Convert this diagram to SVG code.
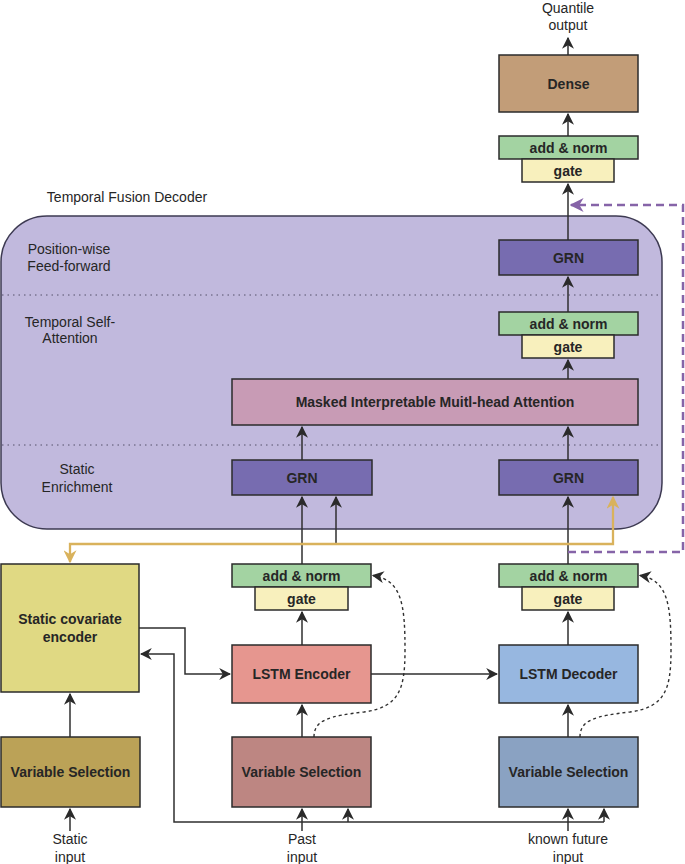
<svg xmlns="http://www.w3.org/2000/svg" width="685" height="864" viewBox="0 0 685 864">
<style>
.box{stroke:#2b2b2b;stroke-width:1.5}
.lbl{font-family:"Liberation Sans",Arial,sans-serif;font-weight:bold;font-size:14px;fill:#262626;text-anchor:middle}
.txt{font-family:"Liberation Sans",Arial,sans-serif;font-size:14px;fill:#262626;text-anchor:middle}
.con{fill:none;stroke:#2f2f2f;stroke-width:1.5}
.dash{fill:none;stroke:#2f2f2f;stroke-width:1.4;stroke-dasharray:3 3}
.gold{fill:none;stroke:#d9b25c;stroke-width:2.3}
.purp{fill:none;stroke:#8664a8;stroke-width:2.5;stroke-dasharray:8 5}
.sep{stroke:#55506a;stroke-width:1;stroke-dasharray:1.5 4}
</style>
<defs>
<marker id="arr" markerUnits="userSpaceOnUse" markerWidth="12" markerHeight="12" viewBox="0 0 10 10" refX="9" refY="5" orient="auto">
<path d="M0,0 L10,5 L0,10 L3,5 z" fill="#2a2a2a"/>
</marker>
<marker id="arrG" markerUnits="userSpaceOnUse" markerWidth="13" markerHeight="13" viewBox="0 0 10 10" refX="9" refY="5" orient="auto-start-reverse">
<path d="M0,0 L10,5 L0,10 L3,5 z" fill="#d9b25c"/>
</marker>
<marker id="arrP" markerUnits="userSpaceOnUse" markerWidth="14" markerHeight="14" viewBox="0 0 10 10" refX="9" refY="5" orient="auto">
<path d="M0,0 L10,5 L0,10 L3,5 z" fill="#8664a8"/>
</marker>
</defs>

<g id="decoder">
<rect x="1" y="216" width="661" height="313" rx="46" ry="46" fill="#c1b9dd" stroke="#3d3a52" stroke-width="1.5"/>
<line class="sep" x1="2" y1="295" x2="661" y2="295"/>
<line class="sep" x1="2" y1="445" x2="661" y2="445"/>
<text class="txt" x="127" y="202">Temporal Fusion Decoder</text>
<text class="txt" x="69" y="254">Position-wise</text>
<text class="txt" x="69" y="271">Feed-forward</text>
<text class="txt" x="70" y="327">Temporal Self-</text>
<text class="txt" x="70" y="343">Attention</text>
<text class="txt" x="77" y="474">Static</text>
<text class="txt" x="77" y="492">Enrichment</text>
</g>

<g id="connectors">
<path class="con" marker-end="url(#arr)" d="M568,55 V38"/>
<path class="con" marker-end="url(#arr)" d="M568,136 V114"/>
<path class="con" marker-end="url(#arr)" d="M568,240 V184"/>
<path class="con" marker-end="url(#arr)" d="M568,312 V277"/>
<path class="con" marker-end="url(#arr)" d="M568,379 V360"/>
<path class="con" marker-end="url(#arr)" d="M568,460 V427"/>
<path class="con" marker-end="url(#arr)" d="M302,460 V427"/>
<path class="con" marker-end="url(#arr)" d="M568,564 V497"/>
<path class="con" marker-end="url(#arr)" d="M302,564 V497"/>
<path class="con" marker-end="url(#arr)" d="M336,545 V497"/>
<path class="con" marker-end="url(#arr)" d="M568,645 V612"/>
<path class="con" marker-end="url(#arr)" d="M302,645 V612"/>
<path class="con" marker-end="url(#arr)" d="M568,737 V705"/>
<path class="con" marker-end="url(#arr)" d="M302,737 V705"/>
<path class="con" marker-end="url(#arr)" d="M371,674 H497"/>
<path class="con" marker-end="url(#arr)" d="M139,628 H185 V674 H230"/>
<path class="con" marker-end="url(#arr)" d="M604,822 H174 V654 H141"/>
<path class="con" marker-end="url(#arr)" d="M348,822 V809"/>
<path class="con" marker-end="url(#arr)" d="M604,822 V809"/>
<path class="con" marker-end="url(#arr)" d="M70,737 V694"/>
<path class="con" marker-end="url(#arr)" d="M70,831 V809"/>
<path class="con" marker-end="url(#arr)" d="M302,831 V809"/>
<path class="con" marker-end="url(#arr)" d="M568,831 V809"/>
<path class="dash" marker-end="url(#arr)" d="M580,737 C580,720 595,716 630,712 C665,707 671,690 671,650 C671,605 668,580 640,575.5"/>
<path class="dash" marker-end="url(#arr)" d="M314,737 C314,720 329,716 364,712 C399,707 405,690 405,650 C405,605 402,580 373,575.5"/>
<path class="gold" marker-start="url(#arrG)" marker-end="url(#arrG)" d="M70,562 V544 H613 V497"/>
<path class="purp" marker-end="url(#arrP)" d="M568,552 H683 V205 H571"/>
</g>

<g id="quantile-output"><text class="txt" x="568" y="13">Quantile</text><text class="txt" x="568" y="30">output</text></g>
<g id="dense"><rect class="box" x="499" y="55" width="139" height="57" fill="#c29d78"/><text class="lbl" x="568.5" y="88.5">Dense</text></g>
<g id="addnorm-out"><rect class="box" x="499" y="136" width="139" height="23" fill="#a3d3a2"/><text class="lbl" x="568.5" y="152.5">add &amp; norm</text></g>
<g id="gate-out"><rect class="box" x="522" y="159" width="92" height="23" fill="#f8f0bd"/><text class="lbl" x="568" y="175.5">gate</text></g>
<g id="grn-ff"><rect class="box" x="499" y="240" width="139" height="35" fill="#776cb0"/><text class="lbl" x="568.5" y="262.5">GRN</text></g>
<g id="addnorm-att"><rect class="box" x="499" y="312" width="139" height="23" fill="#a3d3a2"/><text class="lbl" x="568.5" y="328.5">add &amp; norm</text></g>
<g id="gate-att"><rect class="box" x="522" y="335" width="92" height="23" fill="#f8f0bd"/><text class="lbl" x="568" y="351.5">gate</text></g>
<g id="attention"><rect class="box" x="232" y="379" width="406" height="46" fill="#c89bb5"/><text class="lbl" x="435" y="407">Masked Interpretable Muitl-head Attention</text></g>
<g id="grn-enrich-left"><rect class="box" x="232" y="460" width="140" height="35" fill="#776cb0"/><text class="lbl" x="302" y="482.5">GRN</text></g>
<g id="grn-enrich-right"><rect class="box" x="499" y="460" width="139" height="35" fill="#776cb0"/><text class="lbl" x="568.5" y="482.5">GRN</text></g>
<g id="addnorm-enc"><rect class="box" x="232" y="564" width="139" height="23" fill="#a3d3a2"/><text class="lbl" x="301.5" y="580.5">add &amp; norm</text></g>
<g id="gate-enc"><rect class="box" x="255" y="587" width="93" height="23" fill="#f8f0bd"/><text class="lbl" x="301.5" y="603.5">gate</text></g>
<g id="addnorm-dec"><rect class="box" x="499" y="564" width="139" height="23" fill="#a3d3a2"/><text class="lbl" x="568.5" y="580.5">add &amp; norm</text></g>
<g id="gate-dec"><rect class="box" x="522" y="587" width="92" height="23" fill="#f8f0bd"/><text class="lbl" x="568" y="603.5">gate</text></g>
<g id="static-encoder"><rect class="box" x="1" y="564" width="138" height="128" fill="#e0d983"/><text class="lbl" x="70" y="624">Static covariate</text><text class="lbl" x="70" y="642">encoder</text></g>
<g id="lstm-encoder"><rect class="box" x="232" y="645" width="139" height="58" fill="#e6968f"/><text class="lbl" x="301.5" y="679">LSTM Encoder</text></g>
<g id="lstm-decoder"><rect class="box" x="499" y="645" width="139" height="58" fill="#97b7e0"/><text class="lbl" x="568.5" y="679">LSTM Decoder</text></g>
<g id="vs-static"><rect class="box" x="1" y="737" width="139" height="70" fill="#bba257"/><text class="lbl" x="70.5" y="777">Variable Selection</text></g>
<g id="vs-past"><rect class="box" x="232" y="737" width="139" height="70" fill="#bd8682"/><text class="lbl" x="301.5" y="777">Variable Selection</text></g>
<g id="vs-future"><rect class="box" x="499" y="737" width="139" height="70" fill="#8aa2c2"/><text class="lbl" x="568.5" y="777">Variable Selection</text></g>
<g id="static-input"><text class="txt" x="70" y="844">Static</text><text class="txt" x="70" y="862">input</text></g>
<g id="past-input"><text class="txt" x="302" y="844">Past</text><text class="txt" x="302" y="862">input</text></g>
<g id="future-input"><text class="txt" x="568" y="844">known future</text><text class="txt" x="568" y="862">input</text></g>
</svg>
